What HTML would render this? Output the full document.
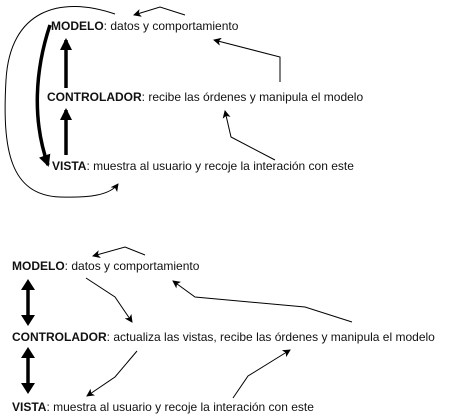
<!DOCTYPE html>
<html><head><style>
body{margin:0;width:452px;height:418px;background:#fff;position:relative;font-family:"Liberation Sans",sans-serif;font-size:12px;color:#111;overflow:hidden}
.t{position:absolute;white-space:nowrap;line-height:13px}
</style></head><body>
<svg width="452" height="418" style="position:absolute;left:0;top:0">
<defs>
<marker id="a" markerWidth="8" markerHeight="8" refX="7" refY="4" orient="auto" markerUnits="userSpaceOnUse"><path d="M0,0 L8,4 L0,8 L2,4z" fill="#000"/></marker>
<marker id="b" markerWidth="12" markerHeight="12" refX="10" refY="6" orient="auto" markerUnits="userSpaceOnUse"><path d="M0,0 L12,6 L0,12z" fill="#000"/></marker>
</defs>
<g fill="none" stroke="#000" stroke-width="1">
<polyline points="185,15 160,7 134,15" marker-end="url(#a)"/>
<polyline points="280,82 280,57 214,40" marker-end="url(#a)"/>
<polyline points="275,160 231,137 225,111" marker-end="url(#a)"/>
<path d="M115,14 C60,-5 10,10 6,80 C2,150 10,195 60,197 C90,198 110,195 118,184" marker-end="url(#a)"/>
<polyline points="145,255 125,247 93,256" marker-end="url(#a)"/>
<polyline points="86,278 115,297 132,322" marker-end="url(#a)"/>
<polyline points="137,351 115,377 87,396" marker-end="url(#a)"/>
<polyline points="233,398 248,376 290,350" marker-end="url(#a)"/>
<polyline points="352,322 305,307 195,297 173,281" marker-end="url(#a)"/>
</g>
<g fill="none" stroke="#000" stroke-width="3.5">
<path d="M50,25 C35,70 32,120 48,165" marker-end="url(#b)"/>
<line x1="66" y1="88" x2="66" y2="40" marker-end="url(#b)"/>
<line x1="66" y1="155" x2="66" y2="110" marker-end="url(#b)"/>
<line x1="28" y1="287" x2="28" y2="318"/>
<line x1="28" y1="355" x2="28" y2="386"/>
</g>
<g fill="#000">
<path d="M21,290 L28,279 L35,290z M21,315 L28,326 L35,315z"/>
<path d="M21,358 L28,347 L35,358z M21,383 L28,394 L35,383z"/>
</g>
</svg>
<div class="t" style="left:51px;top:20px"><b>MODELO</b>: datos y comportamiento</div>
<div class="t" style="left:47px;top:91px"><b>CONTROLADOR</b>: recibe las órdenes y manipula el modelo</div>
<div class="t" style="left:52px;top:160px"><b>VISTA</b>: muestra al usuario y recoje la interación con este</div>
<div class="t" style="left:12px;top:260px"><b>MODELO</b>: datos y comportamiento</div>
<div class="t" style="left:12px;top:331px"><b>CONTROLADOR</b>: actualiza las vistas, recibe las órdenes y manipula el modelo</div>
<div class="t" style="left:12px;top:401px"><b>VISTA</b>: muestra al usuario y recoje la interación con este</div>
</body></html>
